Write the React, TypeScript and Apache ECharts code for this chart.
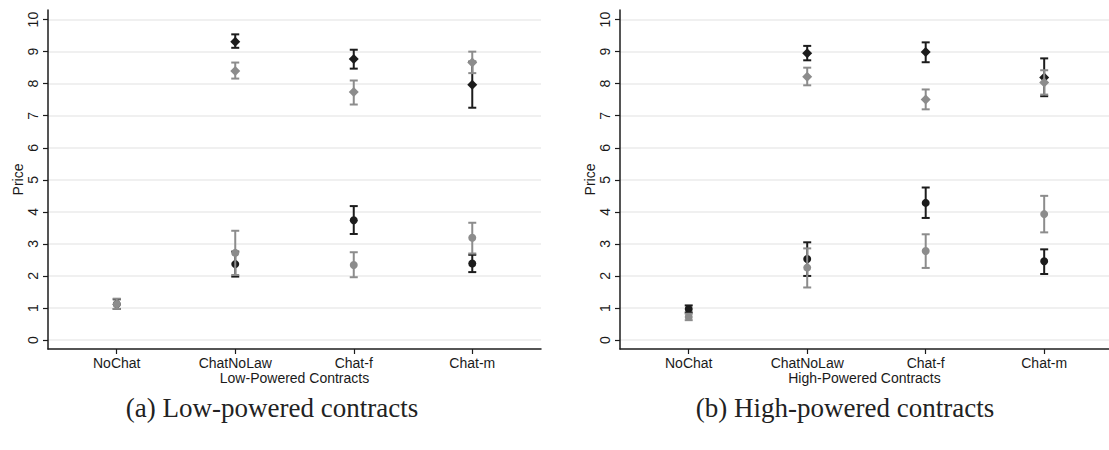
import React, { useEffect, useRef } from 'react';
import * as echarts from 'echarts';

const categories = ['NoChat', 'ChatNoLaw', 'Chat-f', 'Chat-m'];
const xTickValues = [1, 2, 3, 4];
const yTickValues = [0, 1, 2, 3, 4, 5, 6, 7, 8, 9, 10];

// Low-powered contracts
const lowDiamondBlack = [null, 9.31, 8.77, 7.97];
const lowDiamondBlackLo = [null, 9.12, 8.47, 7.25];
const lowDiamondBlackHi = [null, 9.54, 9.06, 8.69];
const lowDiamondGray = [null, 8.4, 7.74, 8.66];
const lowDiamondGrayLo = [null, 8.16, 7.35, 8.33];
const lowDiamondGrayHi = [null, 8.66, 8.1, 9.0];
const lowCircleBlack = [1.12, 2.37, 3.74, 2.39];
const lowCircleBlackLo = [0.97, 1.98, 3.31, 2.12];
const lowCircleBlackHi = [1.27, 2.76, 4.18, 2.66];
const lowCircleGray = [1.12, 2.72, 2.34, 3.19];
const lowCircleGrayLo = [0.97, 2.03, 1.96, 2.7];
const lowCircleGrayHi = [1.29, 3.41, 2.74, 3.66];

// High-powered contracts
const highDiamondBlack = [null, 8.95, 8.99, 8.19];
const highDiamondBlackLo = [null, 8.73, 8.67, 7.61];
const highDiamondBlackHi = [null, 9.18, 9.29, 8.79];
const highDiamondGray = [null, 8.22, 7.51, 8.04];
const highDiamondGrayLo = [null, 7.95, 7.2, 7.66];
const highDiamondGrayHi = [null, 8.5, 7.82, 8.42];
const highCircleBlack = [0.97, 2.53, 4.28, 2.46];
const highCircleBlackLo = [0.86, 2.0, 3.81, 2.06];
const highCircleBlackHi = [1.08, 3.05, 4.76, 2.83];
const highCircleGray = [0.72, 2.26, 2.78, 3.93];
const highCircleGrayLo = [0.62, 1.64, 2.25, 3.36];
const highCircleGrayHi = [0.82, 2.86, 3.3, 4.5];

const panelTitles = ['Low-Powered Contracts', 'High-Powered Contracts'];
const captions = ['(a) Low-powered contracts', '(b) High-powered contracts'];

const BLACK = '#1c1c1c';
const GRAY = '#8c8c8c';
const TEXT = '#1a1a1a';
const SANS = '"Liberation Sans", Arial, Helvetica, sans-serif';

type Num = number | null;

function pointData(means: Num[]) {
  const out: number[][] = [];
  means.forEach((v, i) => {
    if (v != null) out.push([xTickValues[i], v]);
  });
  return out;
}

function barData(means: Num[], lo: Num[], hi: Num[]) {
  const out: number[][] = [];
  means.forEach((v, i) => {
    if (v != null && lo[i] != null && hi[i] != null) out.push([xTickValues[i], lo[i] as number, hi[i] as number]);
  });
  return out;
}

function errorSeries(idx: number, data: number[][], color: string, z: number) {
  return {
    type: 'custom',
    xAxisIndex: idx,
    yAxisIndex: idx,
    silent: true,
    z,
    encode: { x: 0, y: [1, 2] },
    data,
    renderItem: (_params: any, api: any) => {
      const x = api.value(0);
      const top = api.coord([x, api.value(2)]);
      const bot = api.coord([x, api.value(1)]);
      const w = 4;
      const style = { stroke: color, lineWidth: 2, fill: null };
      return {
        type: 'group',
        children: [
          { type: 'line', shape: { x1: top[0], y1: top[1], x2: bot[0], y2: bot[1] }, style },
          { type: 'line', shape: { x1: top[0] - w, y1: top[1], x2: top[0] + w, y2: top[1] }, style },
          { type: 'line', shape: { x1: bot[0] - w, y1: bot[1], x2: bot[0] + w, y2: bot[1] }, style },
        ],
      };
    },
  };
}

function pointSeries(idx: number, data: number[][], color: string, symbol: string, size: number, z: number) {
  return {
    type: 'scatter',
    xAxisIndex: idx,
    yAxisIndex: idx,
    silent: true,
    z,
    symbol,
    symbolSize: size,
    itemStyle: { color, opacity: 1 },
    data,
  };
}

function xAxisFor(idx: number, max: number) {
  return {
    type: 'value',
    gridIndex: idx,
    min: 0.42,
    max,
    name: panelTitles[idx],
    nameLocation: 'middle',
    nameGap: 22,
    nameMoveOverlap: false,
    nameTextStyle: { color: TEXT, fontFamily: SANS, fontSize: 14 },
    axisLine: { show: true, onZero: false, lineStyle: { color: BLACK, width: 1.5 } },
    axisTick: { show: true, length: 5, customValues: xTickValues, lineStyle: { color: BLACK, width: 1.2 } },
    axisLabel: {
      show: true,
      margin: 7,
      customValues: xTickValues,
      color: TEXT,
      fontFamily: SANS,
      fontSize: 14,
      formatter: (v: number) => categories[Math.round(v) - 1] ?? '',
    },
    splitLine: { show: false },
  };
}

function yAxisFor(idx: number) {
  return {
    type: 'value',
    gridIndex: idx,
    min: -0.28,
    max: 10.3,
    name: 'Price',
    nameLocation: 'middle',
    nameRotate: 90,
    nameGap: 23,
    nameMoveOverlap: false,
    nameTextStyle: { color: TEXT, fontFamily: SANS, fontSize: 14 },
    axisLine: { show: true, onZero: false, lineStyle: { color: BLACK, width: 1.5 } },
    axisTick: { show: true, length: 5, customValues: yTickValues, lineStyle: { color: BLACK, width: 1.2 } },
    axisLabel: {
      show: true,
      rotate: 90,
      margin: 8,
      customValues: yTickValues,
      color: TEXT,
      fontFamily: SANS,
      fontSize: 14,
    },
    splitLine: { show: true, lineStyle: { color: '#ebebeb', width: 1.6 } },
  };
}

export default function App() {
  const ref = useRef<HTMLDivElement>(null);

  useEffect(() => {
    if (!ref.current) return;
    const chart = echarts.init(ref.current, null, { renderer: 'svg' });

    const series: any[] = [];
    const panels = [
      {
        dB: [lowDiamondBlack, lowDiamondBlackLo, lowDiamondBlackHi],
        dG: [lowDiamondGray, lowDiamondGrayLo, lowDiamondGrayHi],
        cB: [lowCircleBlack, lowCircleBlackLo, lowCircleBlackHi],
        cG: [lowCircleGray, lowCircleGrayLo, lowCircleGrayHi],
      },
      {
        dB: [highDiamondBlack, highDiamondBlackLo, highDiamondBlackHi],
        dG: [highDiamondGray, highDiamondGrayLo, highDiamondGrayHi],
        cB: [highCircleBlack, highCircleBlackLo, highCircleBlackHi],
        cG: [highCircleGray, highCircleGrayLo, highCircleGrayHi],
      },
    ];
    panels.forEach((p, idx) => {
      series.push(errorSeries(idx, barData(p.dB[0], p.dB[1], p.dB[2]), BLACK, 2));
      series.push(errorSeries(idx, barData(p.cB[0], p.cB[1], p.cB[2]), BLACK, 2));
      series.push(pointSeries(idx, pointData(p.dB[0]), BLACK, 'diamond', 10, 3));
      series.push(pointSeries(idx, pointData(p.cB[0]), BLACK, 'circle', 8, 3));
      series.push(errorSeries(idx, barData(p.dG[0], p.dG[1], p.dG[2]), GRAY, 4));
      series.push(errorSeries(idx, barData(p.cG[0], p.cG[1], p.cG[2]), GRAY, 4));
      series.push(pointSeries(idx, pointData(p.dG[0]), GRAY, 'diamond', 10, 5));
      series.push(pointSeries(idx, pointData(p.cG[0]), GRAY, 'circle', 8, 5));
    });

    chart.setOption({
      animation: false,
      backgroundColor: '#ffffff',
      grid: [
        { left: 48, top: 10, width: 493, height: 339, outerBoundsMode: 'none', containLabel: false },
        { left: 620, top: 10, width: 489, height: 339, outerBoundsMode: 'none', containLabel: false },
      ],
      xAxis: [xAxisFor(0, 4.58), xAxisFor(1, 4.547)],
      yAxis: [yAxisFor(0), yAxisFor(1)],
      series,
      graphic: captions.map((c, i) => ({
        type: 'text',
        x: i === 0 ? 272 : 845,
        y: 408,
        silent: true,
        style: {
          text: c,
          fill: '#222222',
          font: '27px "Liberation Serif", "Times New Roman", serif',
          textAlign: 'center',
          textVerticalAlign: 'middle',
        },
      })),
    });

    return () => {
      chart.dispose();
    };
  }, []);

  return (
    <div
      ref={ref}
      style={{ position: 'fixed', left: 0, top: 0, width: 1109, height: 450, background: '#fff' }}
    />
  );
}
